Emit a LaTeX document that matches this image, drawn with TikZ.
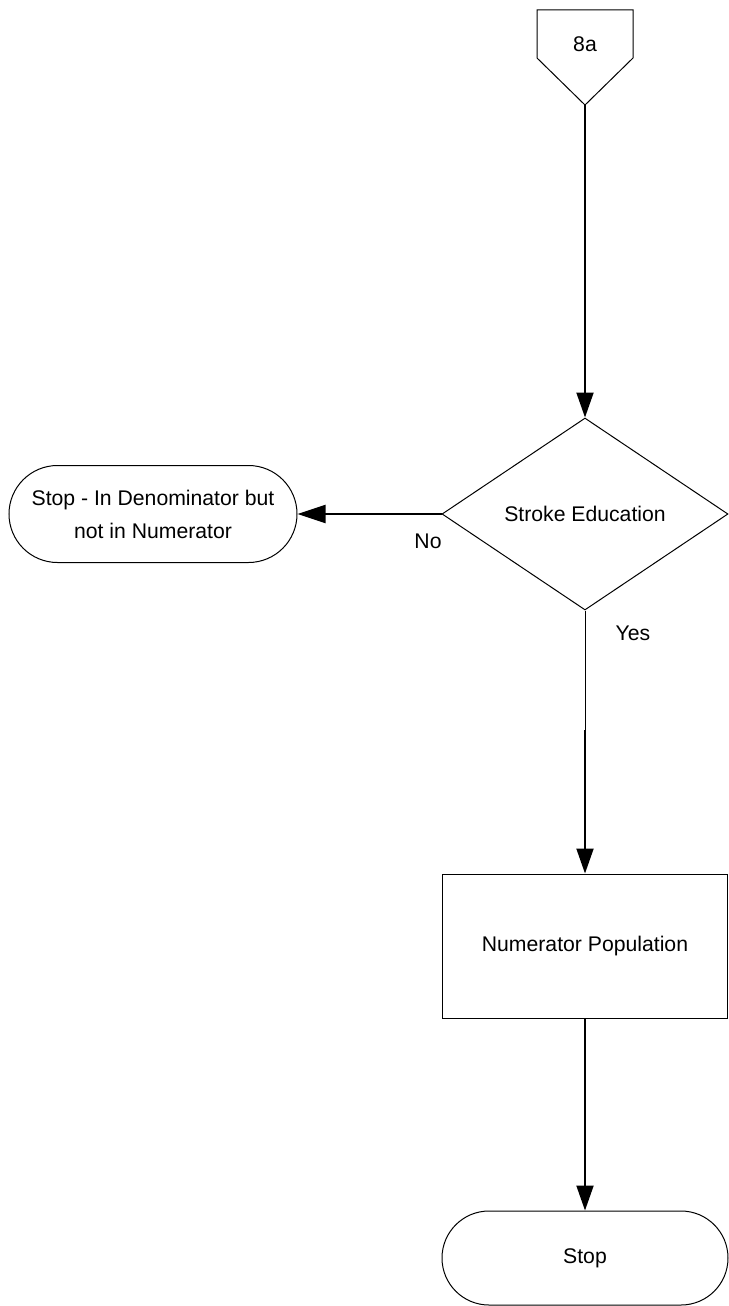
\documentclass[tikz,border=0pt]{standalone}
\usepackage{fontspec}
\setmainfont{Liberation Sans}
\usetikzlibrary{shapes.geometric,shapes.misc,arrows.meta}
\begin{document}
\begin{tikzpicture}[x=1pt,y=1pt,
  every node/.style={font=\fontsize{21.2}{33}\selectfont},
  outline/.style={draw=black, line width=1pt},
  flow/.style={line width=2pt, -{Triangle[length=25pt,width=17pt]}},
  sideflow/.style={line width=2pt, -{Triangle[length=28pt,width=18pt]}},
  thinflow/.style={line width=1pt},
  terminal/.style={outline, rounded rectangle, inner sep=0pt, align=center},
  decision/.style={outline, diamond, inner sep=0pt, aspect=1.49},
  process/.style={outline, rectangle, inner sep=0pt},
  lbl/.style={inner sep=0pt}
]
\useasboundingbox (0,0) rectangle (728,-1306);

% off-page connector 8a
\draw[outline] (537,-10) -- (633,-10) -- (633,-58) -- (585,-105) -- (537,-58) -- cycle;
\node[lbl] (conn) at (585,-44) {8a};
\coordinate (connbot) at (585,-105);

% decision
\node[decision, minimum width=286pt, minimum height=192pt] (dec) at (585,-514) {Stroke Education};

% stop branch on the left
\node[terminal, minimum width=288pt, minimum height=97pt] (stopL) at (153,-514)
  {Stop - In Denominator but\\not in Numerator};

% numerator box
\node[process, minimum width=285pt, minimum height=144pt] (num) at (585,-946) {Numerator Population};

% final stop
\node[terminal, minimum width=286pt, minimum height=94pt] (stop) at (585,-1258) {Stop};

% connectors
\draw[flow] (connbot) -- (dec.north);
\draw[sideflow] (dec.west) -- (stopL.east);
\coordinate (yesjoin) at (585,-730);
\draw[thinflow] (dec.south) -- (yesjoin);
\draw[flow] (yesjoin) -- (num.north);
\draw[flow] (num.south) -- (stop.north);

% branch labels
\node[lbl] (nolbl) at (428,-541) {No};
\node[lbl] (yeslbl) at (633,-633) {Yes};
\end{tikzpicture}
\end{document}
